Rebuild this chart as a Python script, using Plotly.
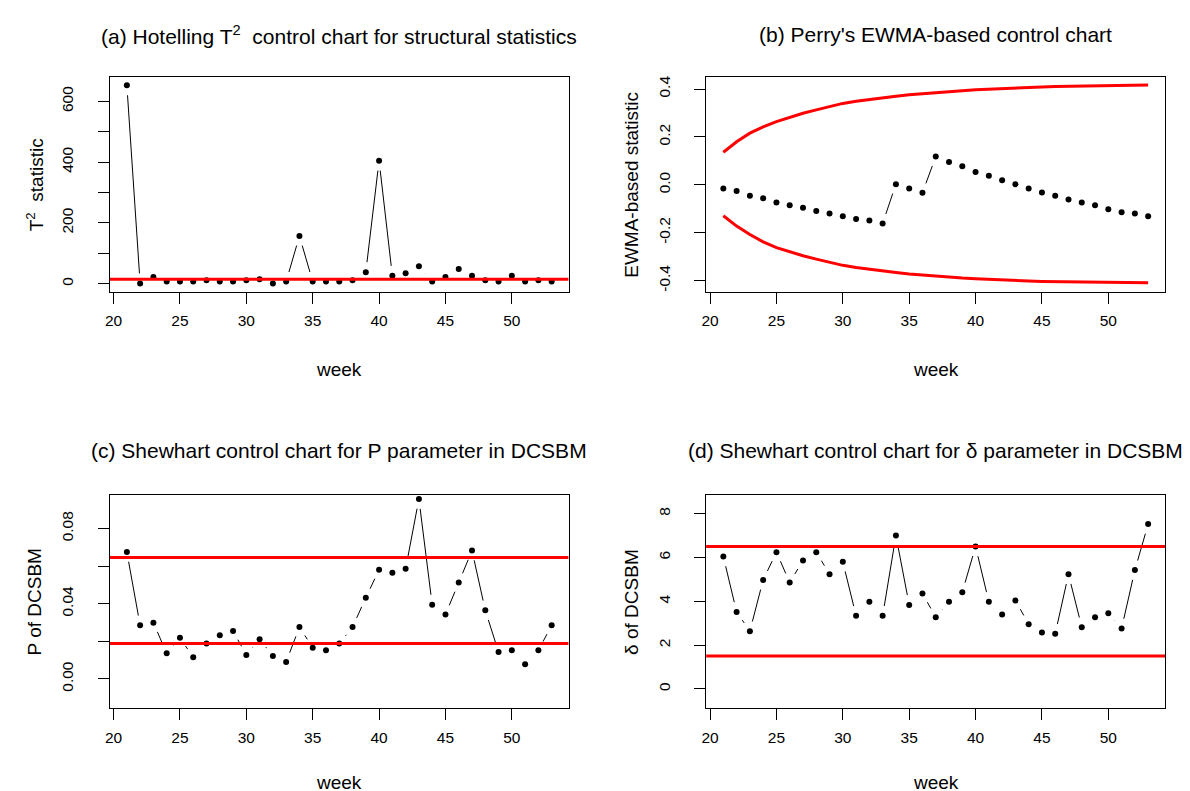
import math
import plotly.graph_objects as go

# ---------------- data ----------------
weeks = list(range(21, 54))

t2_stat = [653, 1, 22, 7, 7, 7, 11, 7, 7, 11, 15, 1, 7, 157, 7, 7, 7, 11, 38, 405,
           26, 34, 57, 7, 22, 48, 26, 11, 7, 26, 7, 11, 7]
t2_limit = 15

ewma_stat = [-0.015, -0.026, -0.045, -0.056, -0.074, -0.085, -0.096, -0.109, -0.120, -0.131,
             -0.143, -0.149, -0.161, 0.003, -0.015, -0.033, 0.118, 0.095, 0.078, 0.054,
             0.038, 0.019, 0.003, -0.015, -0.032, -0.045, -0.061, -0.074, -0.085, -0.102,
             -0.114, -0.120, -0.131]
ewma_ucl = [0.136, 0.180, 0.216, 0.242, 0.264, 0.283, 0.299, 0.313, 0.327, 0.340,
            0.349, 0.357, 0.364, 0.370, 0.376, 0.381, 0.385, 0.389, 0.393, 0.397,
            0.400, 0.402, 0.405, 0.407, 0.409, 0.411, 0.412, 0.413, 0.414, 0.415,
            0.416, 0.417, 0.417]
ewma_lcl = [-0.129, -0.172, -0.207, -0.238, -0.262, -0.280, -0.296, -0.310, -0.323, -0.336,
            -0.345, -0.353, -0.360, -0.366, -0.372, -0.377, -0.381, -0.385, -0.389, -0.392,
            -0.395, -0.397, -0.399, -0.401, -0.403, -0.404, -0.405, -0.406, -0.407, -0.408,
            -0.408, -0.409, -0.409]

p_stat = [0.0676, 0.0285, 0.0299, 0.0136, 0.0219, 0.0115, 0.0188, 0.0232, 0.0255, 0.0127,
          0.0211, 0.0122, 0.0090, 0.0276, 0.0166, 0.0152, 0.0188, 0.0276, 0.0432, 0.0581,
          0.0565, 0.0586, 0.0958, 0.0395, 0.0343, 0.0513, 0.0683, 0.0365, 0.0143, 0.0152,
          0.0078, 0.0152, 0.0285]
p_limits = [0.0646, 0.0188]

delta_stat = [6.05, 3.52, 2.64, 4.98, 6.25, 4.86, 5.87, 6.25, 5.24, 5.81,
              3.34, 3.98, 3.34, 7.01, 3.84, 4.36, 3.28, 3.98, 4.42, 6.51,
              3.98, 3.40, 4.04, 2.96, 2.58, 2.52, 5.24, 2.82, 3.28, 3.46,
              2.76, 5.43, 7.53]
delta_limits = [6.51, 1.50]

x_ticks = [20, 25, 30, 35, 40, 45, 50]

titles = [
    "(a) Hotelling T<sup>2</sup>  control chart for structural statistics",
    "(b) Perry's EWMA-based control chart",
    "(c) Shewhart control chart for P parameter in DCSBM",
    "(d) Shewhart control chart for δ parameter in DCSBM",
]
ylabels = ["T<sup>2</sup>  statistic", "EWMA-based statistic", "P of DCSBM", "δ of DCSBM"]
xlabel = "week"

# labelled y ticks and unlabelled (minor) y ticks per panel
y_major = [[0, 200, 400, 600], [-0.4, -0.2, 0.0, 0.2, 0.4], [0.00, 0.04, 0.08], [0, 2, 4, 6, 8]]
y_major_text = [["0", "200", "400", "600"], ["-0.4", "-0.2", "0.0", "0.2", "0.4"],
                ["0.00", "0.04", "0.08"], ["0", "2", "4", "6", "8"]]
y_minor = [[100, 300, 500], None, [0.02, 0.06], None]

# ---------------- layout geometry (pixels) ----------------
W, H = 1190, 791
FONT = "Liberation Sans, Arial, sans-serif"
panels = [
    dict(x0=97, x1=558, y0=67.3, y1=282.3, yr=[-26, 680]),
    dict(x0=696, x1=1157, y0=67.3, y1=282.3, yr=[-0.4455, 0.4497]),
    dict(x0=97, x1=558, y0=486, y1=700, yr=[-0.0156, 0.098]),
    dict(x0=696, x1=1157, y0=486, y1=700, yr=[-0.88, 8.87]),
]
xr = [19.7, 54.28]
GAP = 10  # px gap around points (R type="b")

fig = go.Figure()


def gapped(xs, ys, p):
    sx = (p["x1"] - p["x0"]) / (xr[1] - xr[0])
    sy = (p["y1"] - p["y0"]) / (p["yr"][1] - p["yr"][0])
    lx, ly = [], []
    for i in range(len(xs) - 1):
        dx = (xs[i + 1] - xs[i]) * sx
        dy = (ys[i + 1] - ys[i]) * sy
        d = math.hypot(dx, dy)
        if d <= 2 * GAP:
            continue
        f = GAP / d
        ax = xs[i] + f * (xs[i + 1] - xs[i])
        ay = ys[i] + f * (ys[i + 1] - ys[i])
        bx = xs[i + 1] - f * (xs[i + 1] - xs[i])
        by = ys[i + 1] - f * (ys[i + 1] - ys[i])
        lx += [ax, bx, None]
        ly += [ay, by, None]
    return lx, ly


series = [t2_stat, ewma_stat, p_stat, delta_stat]
for k, (p, ys) in enumerate(zip(panels, series)):
    xa = "x" if k == 0 else f"x{k+1}"
    ya = "y" if k == 0 else f"y{k+1}"
    lx, ly = gapped(weeks, ys, p)
    fig.add_trace(go.Scatter(x=lx, y=ly, mode="lines", line=dict(color="black", width=1),
                             xaxis=xa, yaxis=ya, showlegend=False, hoverinfo="skip"))
    fig.add_trace(go.Scatter(x=weeks, y=ys, mode="markers",
                             marker=dict(color="black", size=6),
                             xaxis=xa, yaxis=ya, showlegend=False))

RED = dict(color="#FF0000", width=3)
fig.add_trace(go.Scatter(x=xr, y=[t2_limit, t2_limit], mode="lines", line=RED,
                         xaxis="x", yaxis="y", showlegend=False))
fig.add_trace(go.Scatter(x=weeks, y=ewma_ucl, mode="lines", line=RED,
                         xaxis="x2", yaxis="y2", showlegend=False))
fig.add_trace(go.Scatter(x=weeks, y=ewma_lcl, mode="lines", line=RED,
                         xaxis="x2", yaxis="y2", showlegend=False))
for v in p_limits:
    fig.add_trace(go.Scatter(x=xr, y=[v, v], mode="lines", line=RED,
                             xaxis="x3", yaxis="y3", showlegend=False))
for v in delta_limits:
    fig.add_trace(go.Scatter(x=xr, y=[v, v], mode="lines", line=RED,
                             xaxis="x4", yaxis="y4", showlegend=False))

axis_common = dict(showgrid=False, zeroline=False, showline=True, mirror=True,
                   linecolor="black", linewidth=1, ticks="outside", ticklen=11,
                   tickcolor="black", tickwidth=1,
                   tickfont=dict(family=FONT, size=15.5, color="black"))

layout_axes = {}
annotations = []
for k, p in enumerate(panels):
    sfx = "" if k == 0 else str(k + 1)
    layout_axes[f"xaxis{sfx}"] = dict(
        domain=[p["x0"] / W, p["x1"] / W], range=xr, tickvals=x_ticks,
        anchor=f"y{sfx}", ticklabelstandoff=4, **axis_common)
    yax = dict(domain=[1 - p["y1"] / H, 1 - p["y0"] / H], range=p["yr"],
               tickvals=y_major[k], ticktext=y_major_text[k], tickangle=-90,
               anchor=f"x{sfx}", ticklabelstandoff=18, **axis_common)
    if y_minor[k]:
        yax["minor"] = dict(tickmode="array", tickvals=y_minor[k], ticks="outside",
                            ticklen=11, tickwidth=1, tickcolor="black", showgrid=False)
    layout_axes[f"yaxis{sfx}"] = yax
    cx = (p["x0"] + p["x1"]) / 2 / W
    cy = 1 - (p["y0"] + p["y1"]) / 2 / H
    title_y = 25 if k < 2 else 442
    annotations.append(dict(text=titles[k], x=cx, y=1 - title_y / H, xref="paper", yref="paper",
                            xanchor="center", yanchor="middle", showarrow=False,
                            font=dict(family=FONT, size=21, color="black")))
    xl_y = 360 if k < 2 else 774
    annotations.append(dict(text=xlabel, x=cx, y=1 - xl_y / H, xref="paper", yref="paper",
                            xanchor="center", yanchor="middle", showarrow=False,
                            font=dict(family=FONT, size=19, color="black")))
    yl_x = 22 if k % 2 == 0 else 621
    annotations.append(dict(text=ylabels[k], x=yl_x / W, y=cy, xref="paper", yref="paper",
                            xanchor="center", yanchor="middle", showarrow=False, textangle=-90,
                            font=dict(family=FONT, size=19, color="black")))

fig.update_layout(width=W, height=H, margin=dict(l=0, r=0, t=0, b=0),
                  paper_bgcolor="white", plot_bgcolor="white",
                  annotations=annotations, **layout_axes)

fig.write_html("out.html")
